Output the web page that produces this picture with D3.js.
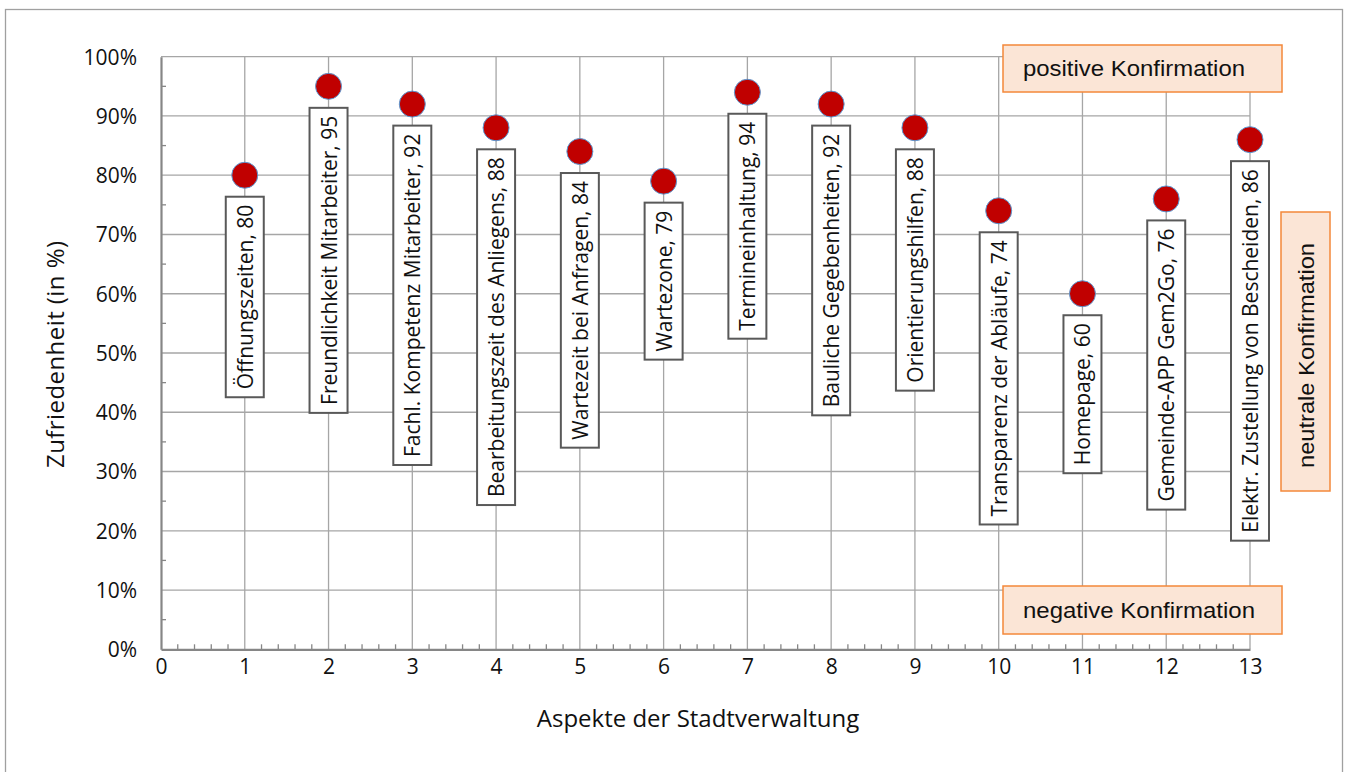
<!DOCTYPE html>
<html><head><meta charset="utf-8">
<script src="https://cdn.jsdelivr.net/npm/d3@7"></script>
<style>
html,body{margin:0;padding:0;background:#fff;}
svg{display:block;}
</style>
</head><body>
<svg id="chart" width="1350" height="772"></svg>
<script>
const positions = [1,2,3,4,5,6,7,8,9,10,11,12,13];
const categories = ["Öffnungszeiten","Freundlichkeit Mitarbeiter","Fachl. Kompetenz Mitarbeiter","Bearbeitungszeit des Anliegens","Wartezeit bei Anfragen","Wartezone","Termineinhaltung","Bauliche Gegebenheiten","Orientierungshilfen","Transparenz der Abläufe","Homepage","Gemeinde-APP Gem2Go","Elektr. Zustellung von Bescheiden"];
const values = [80,95,92,88,84,79,94,92,88,74,60,76,86];
const xTicks = [0,1,2,3,4,5,6,7,8,9,10,11,12,13];
const yTicks = [0,10,20,30,40,50,60,70,80,90,100];
const zoneLabels = ["positive Konfirmation","neutrale Konfirmation","negative Konfirmation"];

const svg = d3.select("#chart");
const tickFont = "'Open Sans', sans-serif";

// outer frame
svg.append("rect").attr("x",5.5).attr("y",9.5).attr("width",1337).attr("height",780)
  .attr("fill","#fff").attr("stroke","#a0a0a0").attr("stroke-width",1.3);

const x = d3.scaleLinear().domain([0,13]).range([161,1250]);
const y = d3.scaleLinear().domain([0,100]).range([649.3,56.7]);

const g = svg.append("g");
// gridlines
g.selectAll(".hg").data(yTicks.filter(d=>d>0)).join("line")
  .attr("x1",x(0)).attr("x2",x(13)).attr("y1",d=>y(d)).attr("y2",d=>y(d))
  .attr("stroke","#a6a6a6").attr("stroke-width",1.3);
g.selectAll(".vg").data(xTicks.filter(d=>d>0)).join("line")
  .attr("x1",d=>x(d)).attr("x2",d=>x(d)).attr("y1",y(0)).attr("y2",y(100))
  .attr("stroke","#a6a6a6").attr("stroke-width",1.3);

// minor ticks
const xMinor = d3.range(0,13.001,0.2).filter(d=>Math.abs(d-Math.round(d))>1e-6);
g.selectAll(".xm").data(xMinor).join("line")
  .attr("x1",d=>x(d)).attr("x2",d=>x(d)).attr("y1",y(0)).attr("y2",y(0)-5)
  .attr("stroke","#868686").attr("stroke-width",1.3);
const yMinor = d3.range(5,100,10);
g.selectAll(".ym").data(yMinor).join("line")
  .attr("x1",x(0)).attr("x2",x(0)+5).attr("y1",d=>y(d)).attr("y2",d=>y(d))
  .attr("stroke","#868686").attr("stroke-width",1.3);

// axes
const xAxis = d3.axisBottom(x).tickValues(xTicks).tickSize(0).tickPadding(21).tickFormat(d3.format("d"));
const gx = svg.append("g").attr("transform",`translate(0,${y(0)})`).call(xAxis);
gx.select(".domain").attr("stroke","#868686").attr("stroke-width",2.2);
gx.selectAll("text").attr("font-family",tickFont).attr("font-size",21).attr("fill","#111").attr("dy","0.2em");

const yAxis = d3.axisLeft(y).tickValues(yTicks).tickSize(0).tickPadding(24).tickFormat(d=>d+"%");
const gy = svg.append("g").attr("transform",`translate(${x(0)},0)`).call(yAxis);
gy.select(".domain").attr("stroke","#868686").attr("stroke-width",2.2);
gy.selectAll("text").attr("font-family",tickFont).attr("font-size",21).attr("fill","#111").attr("dy","0.35em");

// axis titles
svg.append("text").attr("x",698).attr("y",727).attr("text-anchor","middle")
  .attr("font-family",tickFont).attr("font-size",24).attr("fill","#111")
  .text("Aspekte der Stadtverwaltung");
svg.append("text").attr("transform","translate(64,468) rotate(-90)")
  .attr("font-family",tickFont).attr("font-size",24).attr("fill","#111")
  .attr("textLength",227).attr("lengthAdjust","spacing")
  .text("Zufriedenheit (in %)");

// data label boxes
const data = positions.map((p,i)=>({p, v:values[i], label:categories[i]+", "+values[i]}));
const lbl = svg.append("g").selectAll("g").data(data).join("g");
const boxW = 38, pad = 8;
lbl.each(function(d){
  const sel = d3.select(this);
  const rect = sel.append("rect");
  const t = sel.append("text").attr("font-family",tickFont).attr("font-size",21).attr("fill","#111")
    .attr("text-anchor","middle").attr("dominant-baseline","central").text(d.label);
  const len = t.node().getComputedTextLength();
  const top = y(d.v) + 21.5;
  const h = len + 2*pad;
  rect.attr("x",x(d.p)-boxW/2).attr("y",top).attr("width",boxW).attr("height",h)
    .attr("fill","#fff").attr("stroke","#595959").attr("stroke-width",2);
  t.attr("transform",`translate(${x(d.p)},${top+h/2}) rotate(-90)`);
});

// dots
svg.append("g").selectAll("circle").data(data).join("circle")
  .attr("cx",d=>x(d.p)).attr("cy",d=>y(d.v)).attr("r",13)
  .attr("fill","#c00000").attr("stroke","#5b9bd5").attr("stroke-width",1);

// zone boxes
const zf = "'Liberation Sans', Arial, sans-serif";
const zfill = "#fbe5d6", zstroke = "#f4883a";
svg.append("rect").attr("x",1003).attr("y",45).attr("width",279).attr("height",47)
  .attr("fill",zfill).attr("stroke",zstroke).attr("stroke-width",1.5);
svg.append("text").attr("x",1023).attr("y",76).attr("font-family",zf).attr("font-size",22)
  .attr("textLength",222).attr("lengthAdjust","spacingAndGlyphs").attr("fill","#111").text(zoneLabels[0]);
svg.append("rect").attr("x",1003).attr("y",586).attr("width",279).attr("height",48)
  .attr("fill",zfill).attr("stroke",zstroke).attr("stroke-width",1.5);
svg.append("text").attr("x",1023).attr("y",618).attr("font-family",zf).attr("font-size",22)
  .attr("textLength",232).attr("lengthAdjust","spacingAndGlyphs").attr("fill","#111").text(zoneLabels[2]);
svg.append("rect").attr("x",1281).attr("y",212).attr("width",49).attr("height",279)
  .attr("fill",zfill).attr("stroke",zstroke).attr("stroke-width",1.5);
svg.append("text").attr("transform","translate(1314,468) rotate(-90)")
  .attr("font-family",zf).attr("font-size",22)
  .attr("textLength",225).attr("lengthAdjust","spacingAndGlyphs").attr("fill","#111").text(zoneLabels[1]);
</script>
</body></html>
